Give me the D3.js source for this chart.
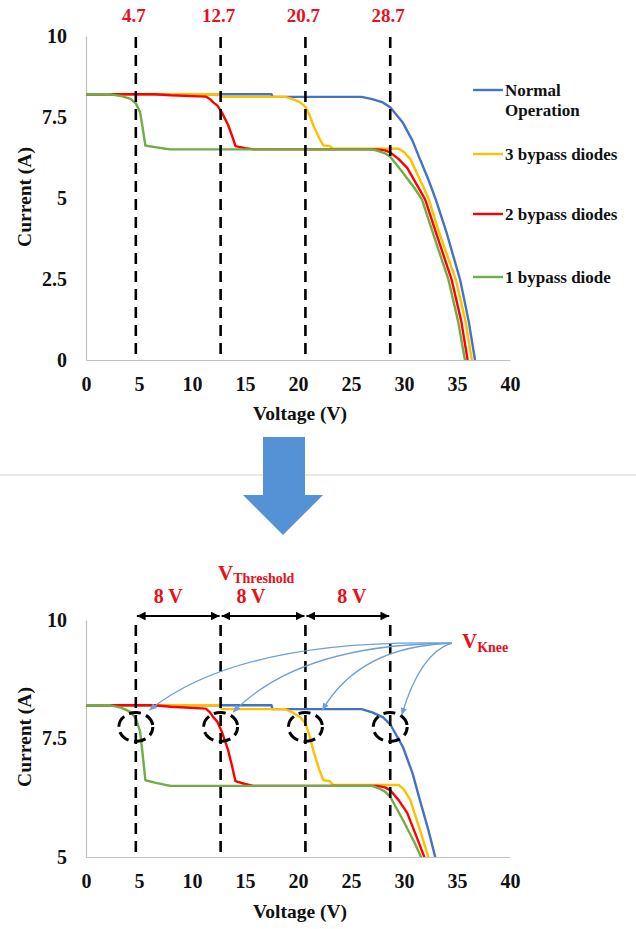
<!DOCTYPE html>
<html><head><meta charset="utf-8">
<script src="https://cdn.jsdelivr.net/npm/d3@7/dist/d3.min.js"></script>
<style>body{margin:0;background:#fff}svg{display:block}</style>
</head><body>
<svg id="c" width="636" height="929" font-family="Liberation Serif, Times New Roman, serif" font-weight="bold"></svg>
<script>
// ---- data ----
const normalV = [0,17.5,17.6,26,27,28,28.7,29.9,30.8,31.5,32.3,33.0,34.0,35.3,36.1,36.7];
const normalI = [8.2,8.2,8.12,8.12,8.05,7.95,7.8,7.32,6.77,6.2,5.57,4.95,3.95,2.47,1.2,0];
const d3V = [0,12.6,12.8,18.8,19.5,20.2,20.7,21.1,21.5,22.0,22.4,23.0,23.3,29.5,30.0,30.6,31.5,32.3,33.3,34.9,35.8,36.4];
const d3I = [8.2,8.2,8.12,8.12,8.05,7.95,7.82,7.55,7.2,6.85,6.62,6.6,6.52,6.52,6.42,6.2,5.57,5.0,3.95,2.47,1.2,0];
const d2V = [0,6.5,8,11.3,11.7,12.0,12.4,12.8,13.4,13.8,14.1,15,15.8,27.5,28.2,28.7,29.5,30.3,31.3,32.0,33.0,34.5,35.4,36.0];
const d2I = [8.2,8.2,8.17,8.13,8.05,7.95,7.85,7.65,7.26,6.9,6.6,6.54,6.5,6.5,6.47,6.41,6.2,5.93,5.36,4.95,3.95,2.47,1.2,0];
const d1V = [0,2.3,3.3,4.2,4.7,5.1,5.3,5.6,6.5,7.5,8.0,27.0,27.6,28.2,28.7,29.9,31.0,31.7,32.7,34.2,35.1,35.75];
const d1I = [8.2,8.2,8.15,8.06,7.92,7.65,7.26,6.62,6.57,6.52,6.5,6.5,6.45,6.38,6.27,5.78,5.3,4.95,3.95,2.47,1.2,0];
const seriesNames = ["Normal Operation","3 bypass diodes","2 bypass diodes","1 bypass diode"];
const seriesColors = ["#4472C4","#FFC000","#FF0000","#70AD47"];
const thresholds = [4.7,12.7,20.7,28.7];
const thresholdLabels = ["4.7","12.7","20.7","28.7"];
const xTicks = [0,5,10,15,20,25,30,35,40];
const yTicksTop = [0,2.5,5,7.5,10];
const yTicksBottom = [5,7.5,10];
const gapLabels = ["8 V","8 V","8 V"];
// knee annotation targets (V, I) in bottom chart
const kneeTargetV = [6.0,13.9,22.3,29.8];
const kneeTargetI = [8.1,8.06,8.1,8.0];
const kneeCtrlV = [14.5,20.2,25.8,31.5];
const kneeCtrlI = [9.62,9.5,9.45,9.3];
const kneeSource = [34.5,9.51];

const FONT = "Liberation Serif, Times New Roman, serif";
const series = [[normalV,normalI],[d3V,d3I],[d2V,d2I],[d1V,d1I]].map((p,k)=>({
  name:seriesNames[k], color:seriesColors[k], pts:p[0].map((v,i)=>[v,p[1][i]])}));

const svg = d3.select("#c");
const x = d3.scaleLinear([0,40],[86,510]);
const yTop = d3.scaleLinear([0,10],[360,36]);
const yBot = d3.scaleLinear([5,10],[857,620]);

const defs = svg.append("defs");
defs.append("clipPath").attr("id","clipB").append("rect").attr("x",80).attr("y",600).attr("width",440).attr("height",257);
defs.append("marker").attr("id","ahBlk").attr("viewBox","0 0 10 10").attr("refX",10).attr("refY",5)
  .attr("markerWidth",4).attr("markerHeight",4).attr("orient","auto-start-reverse")
  .append("path").attr("d","M0,0L10,5L0,10Z").attr("fill","#000");
defs.append("marker").attr("id","ahBlue").attr("viewBox","0 0 10 10").attr("refX",9).attr("refY",5)
  .attr("markerWidth",6).attr("markerHeight",6).attr("orient","auto")
  .append("path").attr("d","M0,1L10,5L0,9Z").attr("fill","#6f9fd8");

function drawChart(y, yTicks, top, clip){
  const g = svg.append("g");
  const y0 = y.range()[0];
  const ax = g.append("g").attr("transform",`translate(0,${y0})`)
    .call(d3.axisBottom(x).tickValues(xTicks).tickSize(0).tickPadding(17).tickFormat(d3.format("d")));
  const ay = g.append("g").attr("transform",`translate(${x(0)},0)`)
    .call(d3.axisLeft(y).tickValues(yTicks).tickSize(0).tickPadding(19).tickFormat(d=>String(d)));
  [ax,ay].forEach(a=>{
    a.attr("font-family",FONT).attr("font-size",20).attr("font-weight","bold");
    a.select(".domain").attr("stroke","#c0c0c0").attr("stroke-width",1.2);
    a.selectAll("text").attr("fill","#111");
  });
  const line = d3.line().x(d=>x(d[0])).y(d=>y(d[1]));
  const cg = g.append("g");
  if(clip) cg.attr("clip-path","url(#clipB)");
  series.forEach(s=>{
    cg.append("path").datum(s.pts).attr("d",line).attr("fill","none")
      .attr("stroke",s.color).attr("stroke-width",2.4).attr("stroke-linejoin","round");
  });
  g.selectAll(".th").data(thresholds).join("line")
    .attr("x1",d=>x(d)).attr("x2",d=>x(d))
    .attr("y1",top).attr("y2",y0)
    .attr("stroke","#000").attr("stroke-width",2.6).attr("stroke-dasharray","11,7");
  return g;
}

// ---- top chart ----
drawChart(yTop, yTicksTop, 37, false);
svg.selectAll(".thl").data(thresholds).join("text")
  .attr("x",(d)=>x(d)-2).attr("y",22).attr("text-anchor","middle")
  .attr("font-size",19).attr("fill","#e8101a").text((d,i)=>thresholdLabels[i]);
function axisTitles(cy, ty){
  svg.append("text").attr("transform",`translate(31,${cy}) rotate(-90)`)
    .attr("text-anchor","middle").attr("font-size",19.5).attr("fill","#111").text("Current (A)");
  svg.append("text").attr("x",300).attr("y",ty).attr("text-anchor","middle")
    .attr("font-size",19.5).attr("fill","#111").text("Voltage (V)");
}
axisTitles(197, 420);
const legY = [90,154,214,277];
series.forEach((s,i)=>{
  svg.append("line").attr("x1",473).attr("x2",503).attr("y1",legY[i]).attr("y2",legY[i])
    .attr("stroke",s.color).attr("stroke-width",2.4);
  const t = svg.append("text").attr("x",505).attr("y",legY[i]+6).attr("font-size",17).attr("fill","#111");
  if(i===0){
    t.append("tspan").attr("x",505).text("Normal");
    t.append("tspan").attr("x",505).attr("dy",20).text("Operation");
  } else t.text(s.name);
});

svg.append("line").attr("x1",0).attr("x2",636).attr("y1",475).attr("y2",475).attr("stroke","#d0d0d0").attr("stroke-width",1);
svg.append("path").attr("d","M263,437L305,437L305,495L323,495L283,535L243,495L263,495Z").attr("fill","#5592d5");

// ---- bottom chart ----
drawChart(yBot, yTicksBottom, 625, true);
axisTitles(737, 918);
svg.selectAll(".ell").data(thresholds).join("ellipse")
  .attr("cx",d=>x(d)).attr("cy",727).attr("rx",17).attr("ry",14.5)
  .attr("fill","none").attr("stroke","#000").attr("stroke-width",3)
  .attr("stroke-dasharray","12,5.5").attr("stroke-dashoffset",3);
const gapDx = [-10,-12,4];
for(let i=0;i<3;i++){
  svg.append("line").attr("x1",x(thresholds[i])+1).attr("x2",x(thresholds[i+1])-1)
    .attr("y1",616).attr("y2",616).attr("stroke","#000").attr("stroke-width",2.2)
    .attr("marker-start","url(#ahBlk)").attr("marker-end","url(#ahBlk)");
  svg.append("text").attr("x",(x(thresholds[i])+x(thresholds[i+1]))/2+gapDx[i])
    .attr("y",603).attr("text-anchor","middle").attr("font-size",20).attr("fill","#e8101a").text(gapLabels[i]);
}
const vt = svg.append("text").attr("x",218).attr("y",580).attr("font-size",21).attr("fill","#e8101a");
vt.append("tspan").text("V");
vt.append("tspan").attr("font-size",14).attr("dy",3).text("Threshold");
const vk = svg.append("text").attr("x",462).attr("y",648).attr("font-size",21).attr("fill","#e8101a");
vk.append("tspan").text("V");
vk.append("tspan").attr("font-size",14).attr("dy",4).text("Knee");
const sx = x(kneeSource[0]), sy = yBot(kneeSource[1]);
kneeTargetV.forEach((v,i)=>{
  const p = d3.path();
  p.moveTo(sx,sy);
  p.quadraticCurveTo(x(kneeCtrlV[i]), yBot(kneeCtrlI[i]), x(v), yBot(kneeTargetI[i]));
  svg.append("path").attr("d",p.toString()).attr("fill","none")
    .attr("stroke","#6f9fd8").attr("stroke-width",1.3).attr("marker-end","url(#ahBlue)");
});
</script>
</body></html>
